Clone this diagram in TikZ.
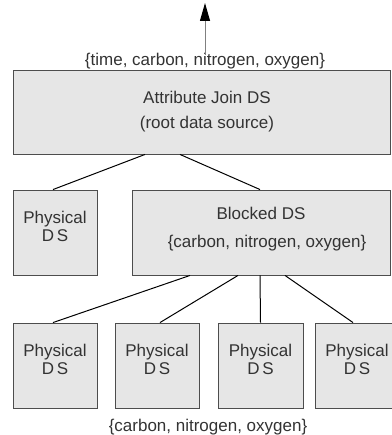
\documentclass[tikz,border=0pt]{standalone}
\usepackage{fontspec}
\setmainfont{Liberation Sans}
\usetikzlibrary{arrows.meta}
\definecolor{boxfill}{HTML}{E6E6E6}
\definecolor{boxline}{HTML}{4D4D4D}
\definecolor{txtcol}{HTML}{333333}
\begin{document}
\begin{tikzpicture}[x=1pt,y=-1pt,
  dsbox/.style={draw=boxline,fill=boxfill,line width=0.9pt,rectangle,inner sep=0pt},
  txt/.style={text=txtcol,font=\fontsize{17}{18.5}\selectfont,inner sep=0pt,align=center},
  link/.style={draw=black,line width=1pt}]
\useasboundingbox (0,0) rectangle (391,435);
% boxes
\node[dsbox,minimum width=377pt,minimum height=84pt] (root) at (201.5,112) {};
\node[dsbox,minimum width=84pt,minimum height=85pt] (p0) at (55,232.5) {};
\node[dsbox,minimum width=258pt,minimum height=85pt] (blk) at (261,232.5) {};
\node[dsbox,minimum width=84pt,minimum height=85pt] (p1) at (55,365.5) {};
\node[dsbox,minimum width=84pt,minimum height=85pt] (p2) at (157,365.5) {};
\node[dsbox,minimum width=85pt,minimum height=85pt] (p3) at (260.5,365.5) {};
\node[dsbox,minimum width=84pt,minimum height=85pt] (p4) at (357,365.5) {};
% texts
\node[txt] (rt1) at (207,97) {Attribute Join DS};
\node[txt] (rt2) at (207,124) {(root data source)};
\node[txt] (bt1) at (261,213) {Blocked DS};
\node[txt] (bt2) at (267,243) {\{carbon, nitrogen, oxygen\}};
\node[txt] (p0t) at (p0.center) [yshift=6pt] {Physical\\D\,S};
\node[txt] (p1t) at (p1.center) [yshift=6pt] {Physical\\D\,S};
\node[txt] (p2t) at (p2.center) [yshift=6pt] {Physical\\D\,S};
\node[txt] (p3t) at (p3.center) [yshift=6pt] {Physical\\D\,S};
\node[txt] (p4t) at (p4.center) [yshift=6pt] {Physical\\D\,S};
\node[txt] (toplab) at (205,61) {\{time, carbon, nitrogen, oxygen\}};
\node[txt] (botlab) at (208,427) {\{carbon, nitrogen, oxygen\}};
% arrow
\coordinate (arrbase) at (205,55);
\coordinate (arrtip) at (205,3);
\draw[draw=gray,line width=1pt,-{Triangle[length=18pt,width=10pt,fill=black,color=black]}] (arrbase) -- (arrtip);
% connectors
\draw[link] ([xshift=-56.5pt]root.south) -- ([xshift=-2pt]p0.north);
\draw[link] ([xshift=-21.5pt]root.south) -- ([xshift=-1pt]blk.north);
\draw[link] ([xshift=-71pt]blk.south) -- ([xshift=-2pt]p1.north);
\draw[link] ([xshift=-23pt]blk.south) -- ([xshift=3pt]p2.north);
\draw[link] ([xshift=-1pt]blk.south) -- (p3.north);
\draw[link] ([xshift=24pt]blk.south) -- ([xshift=-4pt]p4.north);
\end{tikzpicture}
\end{document}
